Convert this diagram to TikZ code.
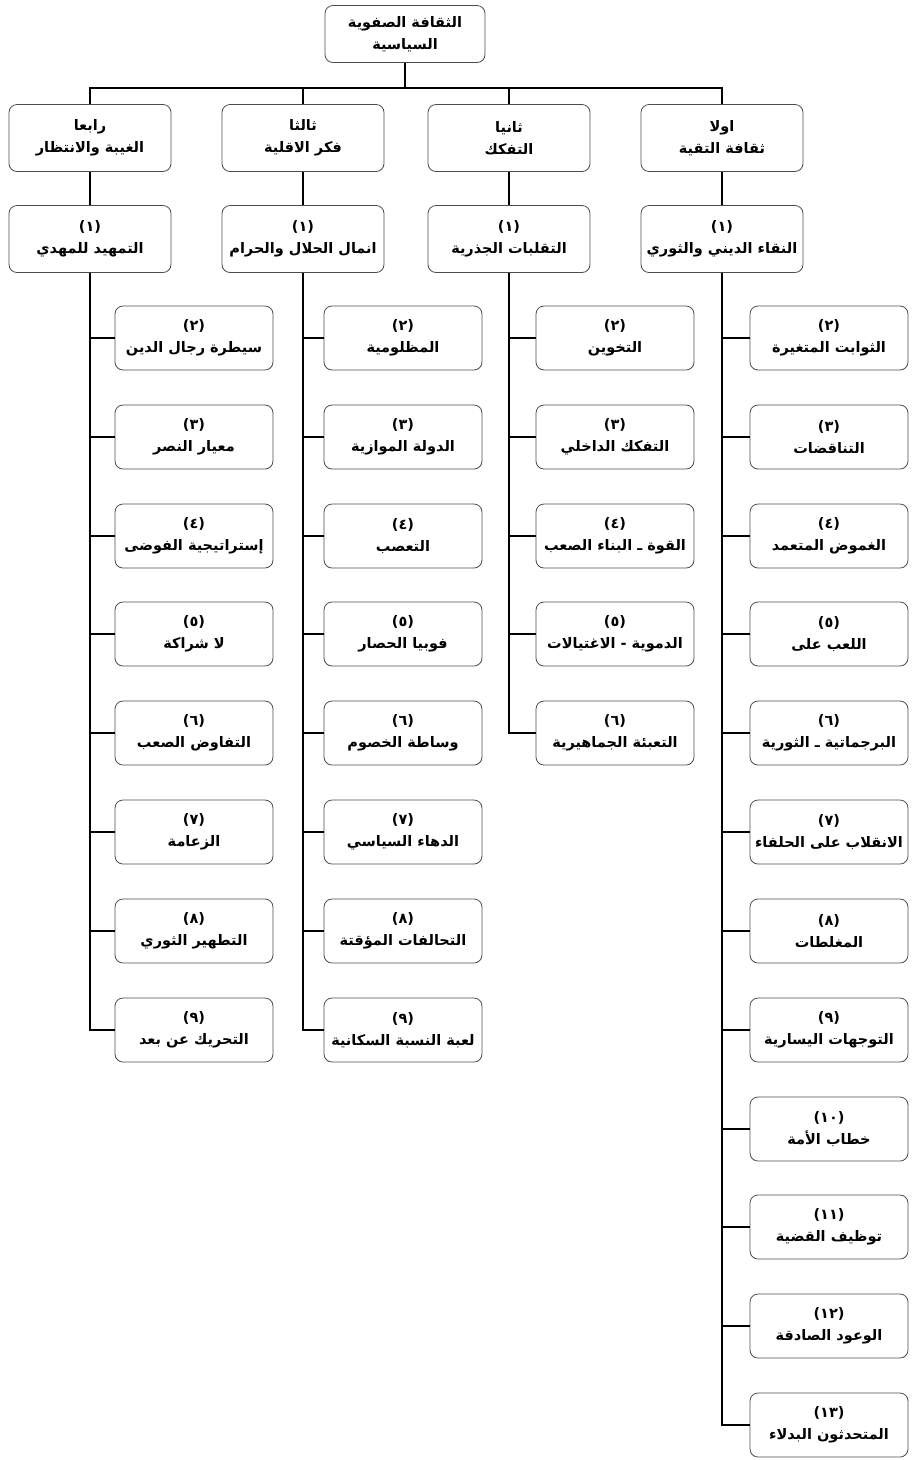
\documentclass[tikz,border=0pt]{standalone}
\usepackage{fontspec}
\newfontfamily\arabicfont[Script=Arabic]{DejaVu Sans}
\TeXXeTstate=1
\newcommand{\artext}[1]{\beginR #1\endR}
\tikzset{
    box/.style={draw=black!70, line width=0.8pt, rounded corners=8pt, align=center,
        inner sep=0pt, font=\arabicfont\bfseries\fontsize{14.5}{22}\selectfont},
    secbox/.style={box, minimum width=162pt, minimum height=67pt},
    itembox/.style={box, minimum width=158pt, minimum height=64pt},
    link/.style={line width=2.8pt},
}
\begin{document}
\begin{tikzpicture}[x=1pt, y=-1pt]
    \useasboundingbox (0,0) rectangle (913,1460);
    % Root
    \node[box, minimum width=160pt, minimum height=57pt] (top) at (405,34)
        {\artext{الثقافة الصفوية}\\\artext{السياسية}};
    \coordinate (bar) at (405,88);
    % Sections
    \node[secbox] (sec1) at (722,138) {\artext{اولا}\\\artext{ثقافة التقية}};
    \node[secbox] (sec2) at (509,138) {\artext{ثانيا}\\\artext{التفكك}};
    \node[secbox] (sec3) at (303,138) {\artext{ثالثا}\\\artext{فكر الاقلية}};
    \node[secbox] (sec4) at (90,138) {\artext{رابعا}\\\artext{الغيبة والانتظار}};
    % First items
    \node[secbox] (head1) at (722,239) {(١)\\\artext{النقاء الديني والثوري}};
    \node[secbox] (head2) at (509,239) {(١)\\\artext{التقلبات الجذرية}};
    \node[secbox] (head3) at (303,239) {(١)\\\artext{انمال الحلال والحرام}};
    \node[secbox] (head4) at (90,239) {(١)\\\artext{التمهيد للمهدي}};
    % Column 1
    \node[itembox] (a2) at (829,338) {(٢)\\\artext{الثوابت المتغيرة}};
    \node[itembox] (a3) at (829,437) {(٣)\\\artext{التناقضات}};
    \node[itembox] (a4) at (829,536) {(٤)\\\artext{الغموض المتعمد}};
    \node[itembox] (a5) at (829,634) {(٥)\\\artext{اللعب على}};
    \node[itembox] (a6) at (829,733) {(٦)\\\artext{البرجماتية ـ الثورية}};
    \node[itembox] (a7) at (829,832) {(٧)\\\artext{الانقلاب على الحلفاء}};
    \node[itembox] (a8) at (829,931) {(٨)\\\artext{المغلطات}};
    \node[itembox] (a9) at (829,1030) {(٩)\\\artext{التوجهات اليسارية}};
    \node[itembox] (a10) at (829,1129) {(١٠)\\\artext{خطاب الأمة}};
    \node[itembox] (a11) at (829,1227) {(١١)\\\artext{توظيف القضية}};
    \node[itembox] (a12) at (829,1326) {(١٢)\\\artext{الوعود الصادقة}};
    \node[itembox] (a13) at (829,1425) {(١٣)\\\artext{المتحدثون البدلاء}};
    % Column 2
    \node[itembox] (b2) at (615,338) {(٢)\\\artext{التخوين}};
    \node[itembox] (b3) at (615,437) {(٣)\\\artext{التفكك الداخلي}};
    \node[itembox] (b4) at (615,536) {(٤)\\\artext{القوة ـ البناء الصعب}};
    \node[itembox] (b5) at (615,634) {(٥)\\\artext{الدموية - الاغتيالات}};
    \node[itembox] (b6) at (615,733) {(٦)\\\artext{التعبئة الجماهيرية}};
    % Column 3
    \node[itembox] (c2) at (403,338) {(٢)\\\artext{المظلومية}};
    \node[itembox] (c3) at (403,437) {(٣)\\\artext{الدولة الموازية}};
    \node[itembox] (c4) at (403,536) {(٤)\\\artext{التعصب}};
    \node[itembox] (c5) at (403,634) {(٥)\\\artext{فوبيا الحصار}};
    \node[itembox] (c6) at (403,733) {(٦)\\\artext{وساطة الخصوم}};
    \node[itembox] (c7) at (403,832) {(٧)\\\artext{الدهاء السياسي}};
    \node[itembox] (c8) at (403,931) {(٨)\\\artext{التحالفات المؤقتة}};
    \node[itembox] (c9) at (403,1030) {(٩)\\\artext{لعبة النسبة السكانية}};
    % Column 4
    \node[itembox] (d2) at (194,338) {(٢)\\\artext{سيطرة رجال الدين}};
    \node[itembox] (d3) at (194,437) {(٣)\\\artext{معيار النصر}};
    \node[itembox] (d4) at (194,536) {(٤)\\\artext{إستراتيجية الفوضى}};
    \node[itembox] (d5) at (194,634) {(٥)\\\artext{لا شراكة}};
    \node[itembox] (d6) at (194,733) {(٦)\\\artext{التفاوض الصعب}};
    \node[itembox] (d7) at (194,832) {(٧)\\\artext{الزعامة}};
    \node[itembox] (d8) at (194,931) {(٨)\\\artext{التطهير الثوري}};
    \node[itembox] (d9) at (194,1030) {(٩)\\\artext{التحريك عن بعد}};
    % Connectors
    \draw[link] (top) -- (bar);
    \draw[link] (sec1.north) |- (bar) (sec2.north) |- (bar)
        (sec3.north) |- (bar) (sec4.north) |- (bar);
    \draw[link] (sec1) -- (head1) (sec2) -- (head2) (sec3) -- (head3) (sec4) -- (head4);
    \draw[link] (head1.south) |- (a13.west) (head1.south) |- (a2.west)
        (head1.south) |- (a3.west) (head1.south) |- (a4.west) (head1.south) |- (a5.west)
        (head1.south) |- (a6.west) (head1.south) |- (a7.west) (head1.south) |- (a8.west)
        (head1.south) |- (a9.west) (head1.south) |- (a10.west) (head1.south) |- (a11.west)
        (head1.south) |- (a12.west);
    \draw[link] (head2.south) |- (b6.west) (head2.south) |- (b2.west)
        (head2.south) |- (b3.west) (head2.south) |- (b4.west) (head2.south) |- (b5.west);
    \draw[link] (head3.south) |- (c9.west) (head3.south) |- (c2.west)
        (head3.south) |- (c3.west) (head3.south) |- (c4.west) (head3.south) |- (c5.west)
        (head3.south) |- (c6.west) (head3.south) |- (c7.west) (head3.south) |- (c8.west);
    \draw[link] (head4.south) |- (d9.west) (head4.south) |- (d2.west)
        (head4.south) |- (d3.west) (head4.south) |- (d4.west) (head4.south) |- (d5.west)
        (head4.south) |- (d6.west) (head4.south) |- (d7.west) (head4.south) |- (d8.west);
\end{tikzpicture}
\end{document}
